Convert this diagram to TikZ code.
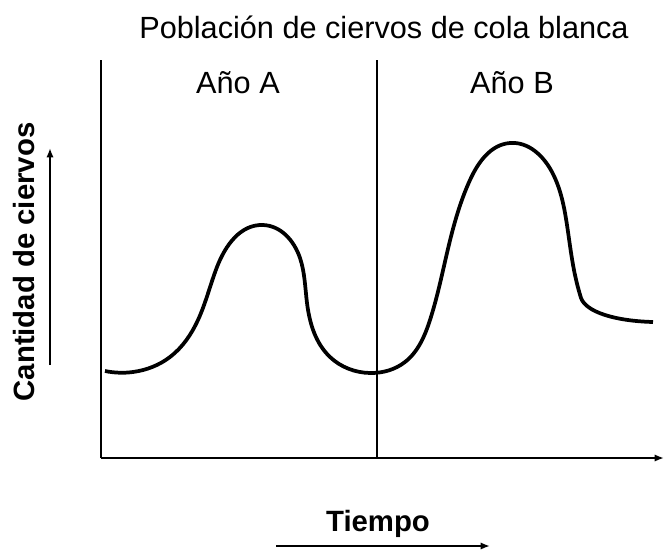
\documentclass[tikz,border=0pt]{standalone}
\usepackage{fontspec}
\setmainfont{Liberation Sans}
\usetikzlibrary{arrows.meta,hobby}
\begin{document}
\begin{tikzpicture}[x=0.75pt,y=-0.75pt,
  axis/.style={line width=1.4pt},
  arr/.style={line width=1.4pt,-{Latex[length=7pt,width=5.5pt]}},
  curve/.style={line width=2.8pt,line cap=butt,line join=round},
  lbl/.style={font=\fontsize{23}{26}\selectfont,inner sep=0pt,anchor=base},
  blbl/.style={font=\fontsize{22}{24}\selectfont\bfseries,inner sep=0pt,anchor=base}]
\useasboundingbox (0,0) rectangle (664,550);
\coordinate (ytop) at (101,60);
\coordinate (origin) at (101,458);
\coordinate (xend) at (664,458);
\coordinate (mtop) at (377,60);
\coordinate (mbot) at (377,458);
\draw[axis] (ytop) -- (origin);
\draw[arr] (origin) -- (xend);
\draw[axis] (mtop) -- (mbot);
\node[lbl] (title) at (384,38) {Población de ciervos de cola blanca};
\node[lbl] (yearA) at (238,93) {Año A};
\node[lbl] (yearB) at (512,93) {Año B};
\node[blbl,rotate=90] (ylabel) at (34,262) {Cantidad de ciervos};
\node[blbl] (xlabel) at (378,531) {Tiempo};
\coordinate (ya0) at (50,365);
\coordinate (ya1) at (50,148);
\draw[arr] (ya0) -- (ya1);
\coordinate (xa0) at (276,546);
\coordinate (xa1) at (490,546);
\draw[arr] (xa0) -- (xa1);
\coordinate (c0) at (105,371);
\coordinate (cb) at (581,298);
\coordinate (c1) at (653,322);
\draw[curve] (c0) to[curve through={(133,372) (170,357) (198,320) (217,267) (263,225) (300,258) (307,303) (330,357) (370,373) (405,362) (430,320) (447,253) (470,180) (510,143) (552,172) (567,225) (575,275)}] (cb)
  .. controls (586,312) and (615,321) .. (c1);
\end{tikzpicture}
\end{document}
